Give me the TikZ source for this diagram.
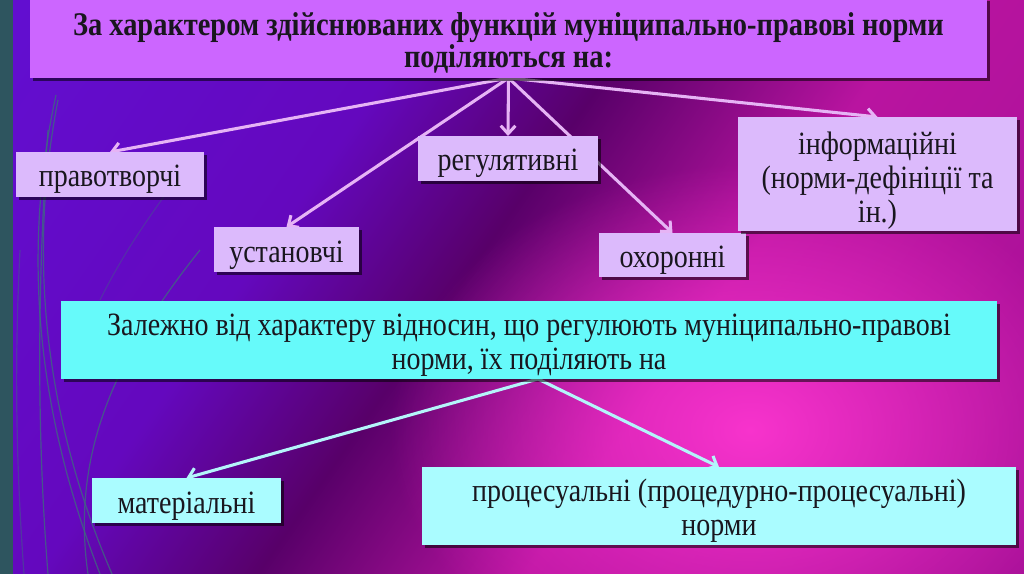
\documentclass[tikz,border=0pt]{standalone}
\usepackage{fontspec}
\setmainfont{Liberation Serif}[FakeStretch=0.86]
\usetikzlibrary{arrows.meta,shadows,fadings}
\definecolor{stripc}{RGB}{46,85,95}
\definecolor{wispc}{RGB}{60,110,125}
\definecolor{bgA}{RGB}{98,15,210}
\definecolor{bgB}{RGB}{100,8,190}
\definecolor{bgC}{RGB}{88,0,105}
\definecolor{bgD}{RGB}{185,20,160}
\definecolor{bgE}{RGB}{165,15,150}
\definecolor{glowc}{RGB}{255,55,210}
\definecolor{topc}{RGB}{204,102,255}
\definecolor{lavc}{RGB}{220,186,252}
\definecolor{cyanc}{RGB}{102,250,250}
\definecolor{lcyanc}{RGB}{170,252,255}
\definecolor{arrlav}{RGB}{230,180,245}
\definecolor{arrcyan}{RGB}{180,245,250}
\definecolor{txtc}{RGB}{25,22,30}
\pgfdeclarehorizontalshading{bgshade}{900bp}{color(0bp)=(bgA); color(282bp)=(bgB); color(417bp)=(bgC); color(582bp)=(bgD); color(900bp)=(bgE)}
\tikzfading[name=glowfade, inner color=transparent!10, outer color=transparent!100]
\pgfdeclarelayer{bglayer}
\pgfdeclarelayer{arrowlayer}
\pgfsetlayers{bglayer,arrowlayer,main}
\newcommand\pxu{0.75pt}
\begin{document}
\begin{tikzpicture}[x=0.75pt, y=-0.75pt,
  boxbase/.style={rectangle, inner sep=0pt, outer sep=0pt,
    drop shadow={shadow xshift=2pt, shadow yshift=-2.2pt, opacity=0.55, fill=black}},
  topbox/.style={boxbase, fill=topc},
  lavbox/.style={boxbase, fill=lavc},
  cyanbox/.style={boxbase, fill=cyanc},
  lcyanbox/.style={boxbase, fill=lcyanc},
  boxtext/.style={inner sep=0pt, align=center, text=txtc, font=\fontsize{24.4}{25.5}\selectfont},
  toptext/.style={boxtext, font=\fontsize{24.8}{22.5}\selectfont\bfseries},
  uparrow/.style={draw=arrlav, line width=2.3pt, -{Straight Barb[length=6pt,width=11pt]}},
  lowarrow/.style={draw=arrcyan, line width=2.3pt, -{Straight Barb[length=6pt,width=11pt]}},
  wisp/.style={draw=wispc, line width=0.9pt, opacity=0.75}]
\useasboundingbox (0,0) rectangle (1024,574);
\begin{pgfonlayer}{bglayer}
\begin{scope}
\clip (0,0) rectangle (1024,574);
\node[inner sep=0pt, outer sep=0pt, rotate=-35] (bgs) at (512,287) {\pgfuseshading{bgshade}};
\fill[glowc, path fading=glowfade] (750,430) ellipse [x radius=270pt, y radius=200pt];
\fill[stripc] (0,0) rectangle (13,574);
\draw[wisp] (56,95) .. controls (20,260) and (40,420) .. (100,574);
\draw[wisp] (58,100) .. controls (25,270) and (50,430) .. (112,574);
\draw[wisp] (48,130) .. controls (36,300) and (38,450) .. (48,574);
\draw[wisp] (200,250) .. controls (120,350) and (70,450) .. (88,574);
\draw[wisp, opacity=0.45] (20,250) .. controls (15,350) and (15,450) .. (24,574);
\draw[wisp, opacity=0.35] (165,195) .. controls (140,230) and (120,260) .. (100,300);
\end{scope}
\end{pgfonlayer}

% boxes
\node[topbox, minimum width=957*\pxu, minimum height=80*\pxu] (top) at (508.5,38) {};
\node[lavbox, minimum width=188*\pxu, minimum height=45*\pxu] (prav) at (110,174.5) {};
\node[lavbox, minimum width=145*\pxu, minimum height=45*\pxu] (ustan) at (286.5,249.5) {};
\node[lavbox, minimum width=180*\pxu, minimum height=45*\pxu] (regul) at (508,158.5) {};
\node[lavbox, minimum width=147*\pxu, minimum height=44*\pxu] (ohor) at (672.5,255) {};
\node[lavbox, minimum width=279*\pxu, minimum height=114*\pxu] (inform) at (877.5,174) {};
\node[cyanbox, minimum width=936*\pxu, minimum height=78*\pxu] (cyan) at (529,340) {};
\node[lcyanbox, minimum width=189*\pxu, minimum height=45*\pxu] (mater) at (186.5,500.5) {};
\node[lcyanbox, minimum width=594*\pxu, minimum height=78*\pxu] (proc) at (719,506) {};

% texts
\node[toptext] (topt) at ([yshift=-3.75pt]top.center)
  {За характером здійснюваних функцій муніципально-правові норми\\поділяються на:};
\node[boxtext] (pravt) at ([yshift=-3.5pt]prav.center) {правотворчі};
\node[boxtext] (ustant) at ([yshift=-4pt]ustan.center) {установчі};
\node[boxtext] (regult) at ([yshift=-3.5pt]regul.center) {регулятивні};
\node[boxtext] (ohort) at ([yshift=-4pt]ohor.center) {охоронні};
\node[boxtext] (informt) at ([yshift=-4.8pt]inform.center) {інформаційні\\(норми-дефініції та\\ін.)};
\node[boxtext] (cyant) at ([yshift=-3.75pt]cyan.center)
  {Залежно від характеру відносин, що регулюють муніципально-правові\\норми, їх поділяють на};
\node[boxtext] (matert) at ([yshift=-4.5pt]mater.center) {матеріальні};
\node[boxtext] (proct) at ([yshift=-3.75pt]proc.center) {процесуальні (процедурно-процесуальні)\\норми};

\begin{pgfonlayer}{arrowlayer}
\draw[uparrow] (top.south) -- (prav.north);
\draw[uparrow] (top.south) -- (ustan.north);
\draw[uparrow] (top.south) -- (regul.north);
\draw[uparrow] (top.south) -- (ohor.north);
\draw[uparrow] (top.south) -- (inform.north);
\coordinate (cyanout) at ([xshift=6.75pt]cyan.south);
\draw[lowarrow] (cyanout) -- (mater.north);
\draw[lowarrow] (cyanout) -- (proc.north);
\end{pgfonlayer}
\end{tikzpicture}
\end{document}
